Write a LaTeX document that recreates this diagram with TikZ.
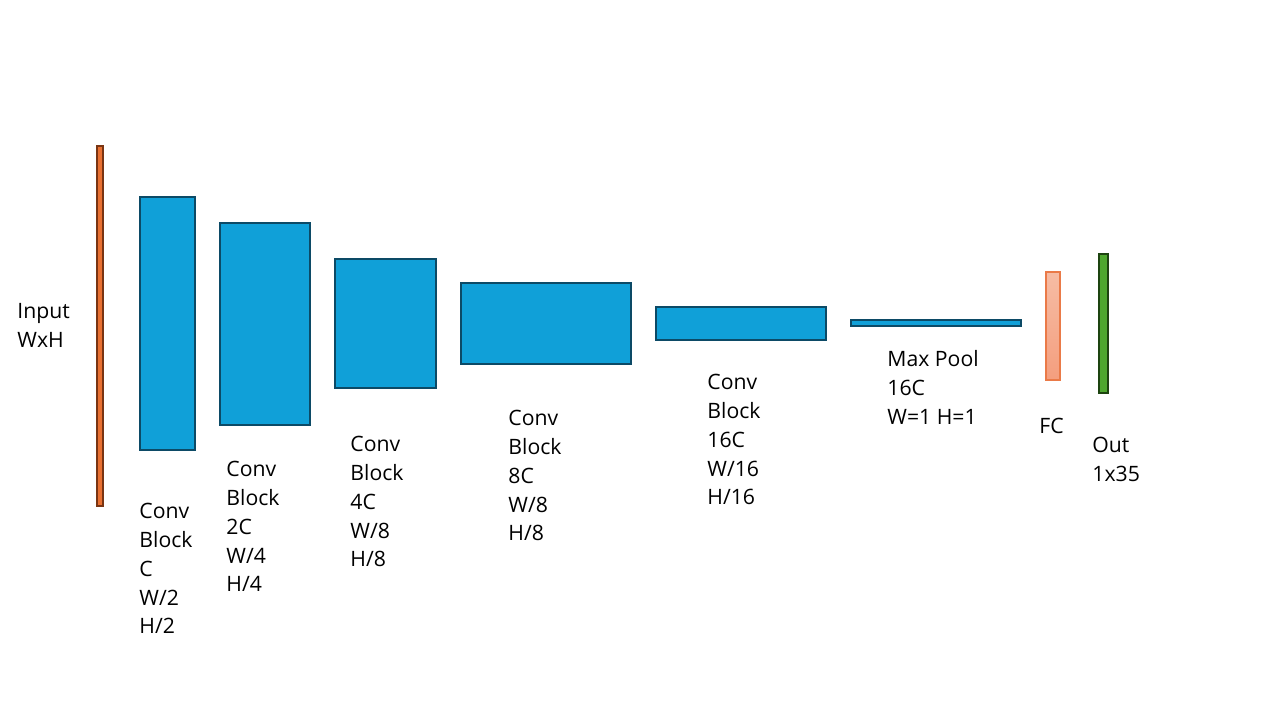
\documentclass[tikz,border=0pt]{standalone}
\usepackage{fontspec}
\setmainfont{Open Sans}
\usetikzlibrary{fit}
\definecolor{blkfill}{HTML}{10A0D8}
\definecolor{blkdraw}{HTML}{0C4A66}
\definecolor{infill}{HTML}{E97132}
\definecolor{indraw}{HTML}{7A3512}
\definecolor{fctop}{HTML}{F6BCA4}
\definecolor{fcbot}{HTML}{F49E7E}
\definecolor{fcdraw}{HTML}{EA7A48}
\definecolor{outfill}{HTML}{4EA72E}
\definecolor{outdraw}{HTML}{1D4410}
\tikzset{
  shp/.style={inner sep=0pt, outer sep=0pt, line width=1pt},
  blk/.style={shp, fill=blkfill, draw=blkdraw},
  inbar/.style={shp, fill=infill, draw=indraw},
  fcbar/.style={shp, top color=fctop, bottom color=fcbot, draw=fcdraw, line width=0.6pt},
  outbar/.style={shp, fill=outfill, draw=outdraw},
  lbl/.style={anchor=north west, inner sep=0pt, align=left, font=\fontsize{10.6pt}{14.4pt}\selectfont}
}
\begin{document}
\begin{tikzpicture}[x=0.5pt,y=-0.5pt]
\useasboundingbox (0,0) rectangle (1280,720);
% shapes
\node[inbar, fit={(97,146)(103,506)}] (inp) {};
\node[blk, fit={(140,197)(195,450)}] (b1) {};
\node[blk, fit={(220,223)(310,425)}] (b2) {};
\node[blk, fit={(335,259)(436,388)}] (b3) {};
\node[blk, fit={(461,283)(631,364)}] (b4) {};
\node[blk, fit={(656,307)(826,340)}] (b5) {};
\node[blk, fit={(851,320)(1021,326)}] (mp) {};
\node[fcbar, fit={(1046,272)(1060,380)}] (fc) {};
\node[outbar, fit={(1099,254)(1108,393)}] (out) {};
% labels
\node[lbl] (tin) at (17,303) {Input\\WxH};
\node[lbl] (t1) at (139,503) {Conv\\Block\\C\\W/2\\H/2};
\node[lbl] (t2) at (226,461) {Conv\\Block\\2C\\W/4\\H/4};
\node[lbl] (t3) at (350,436) {Conv\\Block\\4C\\W/8\\H/8};
\node[lbl] (t4) at (508,410) {Conv\\Block\\8C\\W/8\\H/8};
\node[lbl] (t5) at (707,374) {Conv\\Block\\16C\\W/16\\H/16};
\node[lbl] (tmp) at (887,350) {Max Pool\\16C\\W=1 H=1};
\node[lbl] (tfc) at (1039,418) {FC};
\node[lbl] (tout) at (1092,437) {Out\\1x35};
\end{tikzpicture}
\end{document}
